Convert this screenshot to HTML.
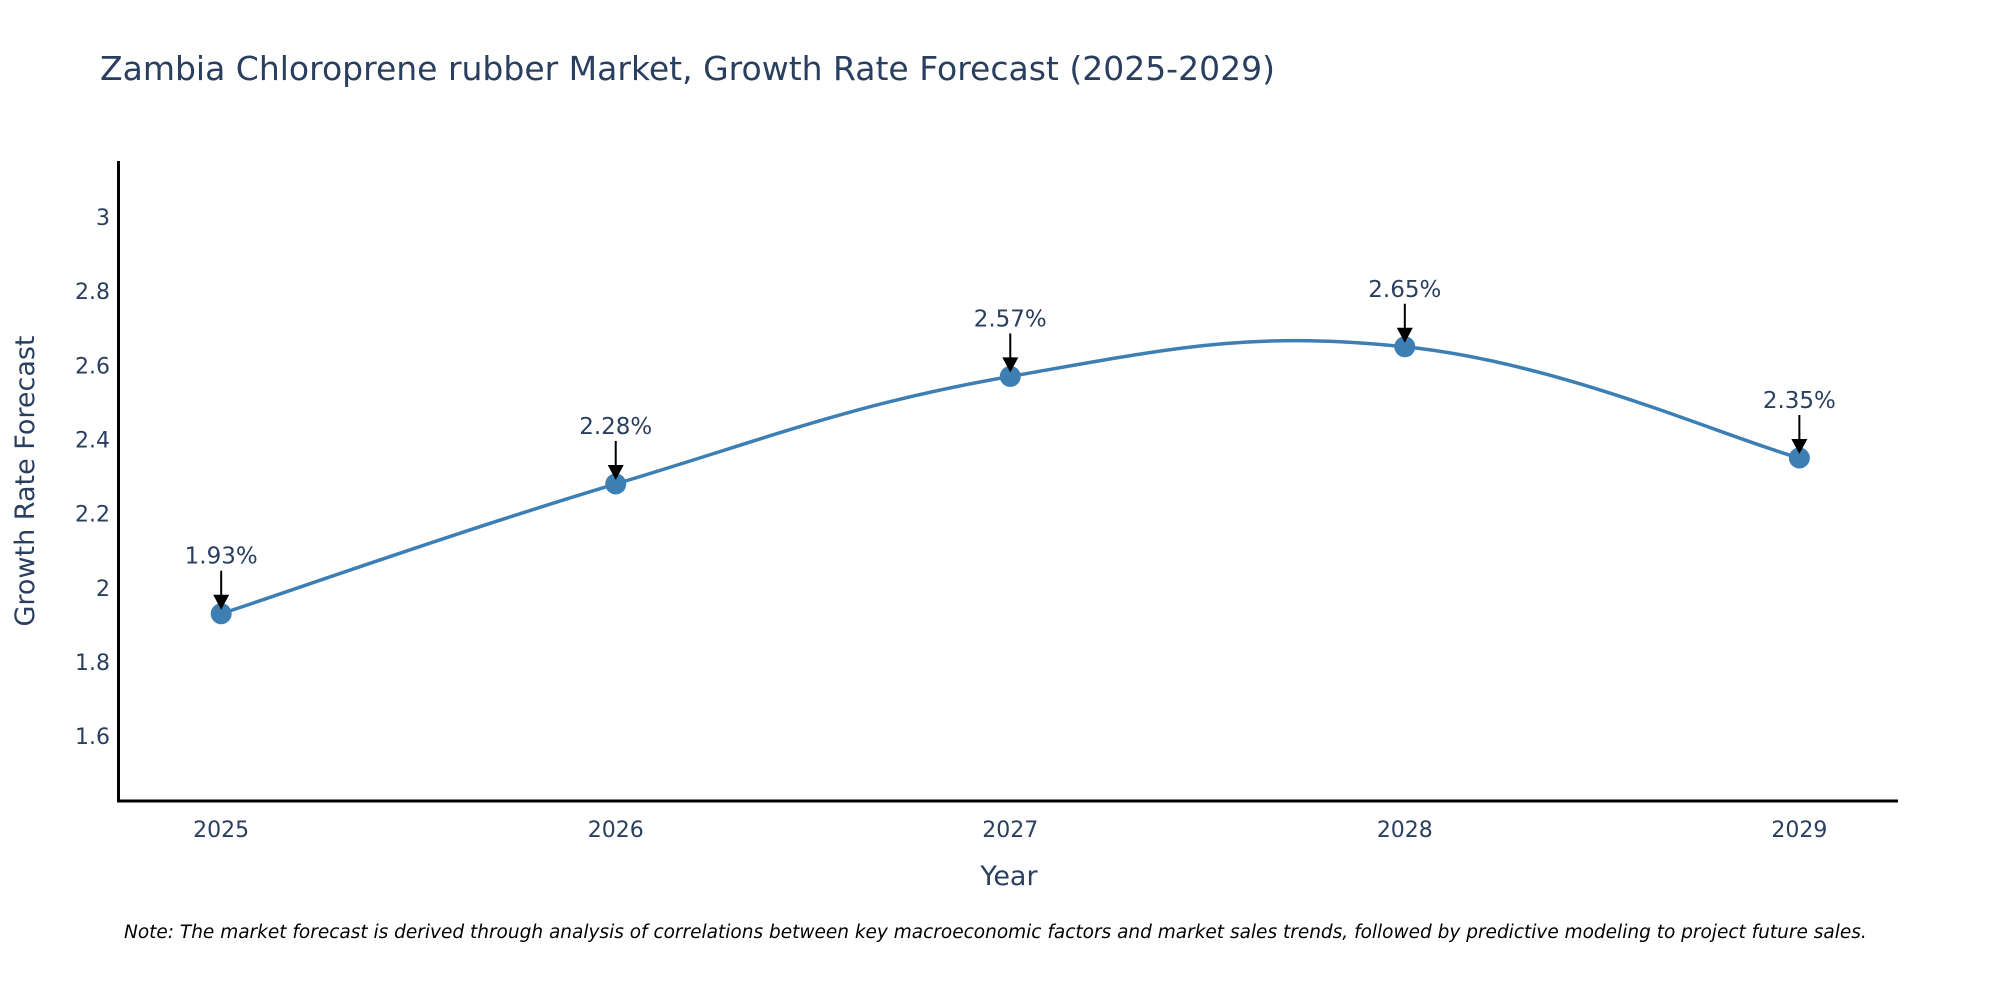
<!DOCTYPE html>
<html><head><meta charset="utf-8"><style>
body{margin:0;background:#fff;}
svg text{font-family:"DejaVu Sans","Liberation Sans",sans-serif;}
</style></head><body>
<svg id="chart" width="2000" height="1000" xmlns="http://www.w3.org/2000/svg">
<rect width="2000" height="1000" fill="#fff"/>
<text x="100" y="80" font-size="33" fill="#2a3f5f">Zambia Chloroprene rubber Market, Growth Rate Forecast (2025-2029)</text>
<g id="yticks"></g>
<g id="xticks"></g>
<path id="line" fill="none" stroke="#3d7fb3" stroke-width="3.5"/>
<g id="marks"></g>
<g id="annots"></g>
<line x1="118.5" y1="161" x2="118.5" y2="802" stroke="#000" stroke-width="3"/>
<line x1="117" y1="801" x2="1898" y2="801" stroke="#000" stroke-width="3"/>
<text transform="translate(34,481) rotate(-90)" text-anchor="middle" font-size="27" fill="#2a3f5f">Growth Rate Forecast</text>
<text x="1009" y="885" text-anchor="middle" font-size="27" fill="#2a3f5f">Year</text>
<text x="124" y="938" font-size="18.5" font-style="italic" fill="#000">Note: The market forecast is derived through analysis of correlations between key macroeconomic factors and market sales trends, followed by predictive modeling to project future sales.</text>
</svg>
<script>
const years = [2025, 2026, 2027, 2028, 2029];
const values = [1.93, 2.28, 2.57, 2.65, 2.35];
const labels = ["1.93%", "2.28%", "2.57%", "2.65%", "2.35%"];
const yTicks = [1.6, 1.8, 2, 2.2, 2.4, 2.6, 2.8, 3];
const NS = "http://www.w3.org/2000/svg";
const X0 = 118.6, X1 = 1898, XMIN = 2024.74, XMAX = 2029.25;
const Y0 = 801, Y1 = 161, YMIN = 1.425, YMAX = 3.151;
function xs(v){return X0 + (v - XMIN) / (XMAX - XMIN) * (X1 - X0);}
function ys(v){return Y0 - (v - YMIN) / (YMAX - YMIN) * (Y0 - Y1);}
function mk(tag, attrs, parent){const e=document.createElementNS(NS,tag);for(const k in attrs)e.setAttribute(k,attrs[k]);parent.appendChild(e);return e;}
const yt = document.getElementById('yticks');
yTicks.forEach(t=>{
  const e = mk('text',{x:110,y:ys(t)+8,'text-anchor':'end','font-size':22,fill:'#2a3f5f'},yt);
  
  
  e.textContent = String(t);
});
const xt = document.getElementById('xticks');
years.forEach(y=>{
  const e = mk('text',{x:xs(y),y:837,'text-anchor':'middle','font-size':22,fill:'#2a3f5f'},xt);
  
  
  e.textContent = String(y);
});
const pts = years.map((y,i)=>[xs(y), ys(values[i])]);
let d = 'M'+pts[0][0]+','+pts[0][1];
const s = 0.2;
for(let i=0;i<pts.length-1;i++){
  const p0=pts[Math.max(i-1,0)], p1=pts[i], p2=pts[i+1], p3=pts[Math.min(i+2,pts.length-1)];
  const c1=[p1[0]+(p2[0]-p0[0])*s, p1[1]+(p2[1]-p0[1])*s];
  const c2=[p2[0]-(p3[0]-p1[0])*s, p2[1]-(p3[1]-p1[1])*s];
  d += ' C'+c1[0]+','+c1[1]+' '+c2[0]+','+c2[1]+' '+p2[0]+','+p2[1];
}
document.getElementById('line').setAttribute('d', d);
const mg = document.getElementById('marks');
const ag = document.getElementById('annots');
pts.forEach((p,i)=>{
  const c = mk('circle',{cx:p[0],cy:p[1],r:10.5,fill:'#3d7fb3'},mg);
  
  
  const l = mk('line',{x1:p[0],y1:p[1]-43,x2:p[0],y2:p[1]-18,stroke:'#000','stroke-width':2},ag);
  
  
  const h = mk('path',{d:`M${p[0]-8},${p[1]-19} L${p[0]+8},${p[1]-19} L${p[0]},${p[1]-4} Z`,fill:'#000'},ag);
  
  
  const t = mk('text',{x:p[0],y:p[1]-50,'text-anchor':'middle','font-size':23,fill:'#2a3f5f'},ag);
  
  
  t.textContent = labels[i];
});
</script>
</body></html>
